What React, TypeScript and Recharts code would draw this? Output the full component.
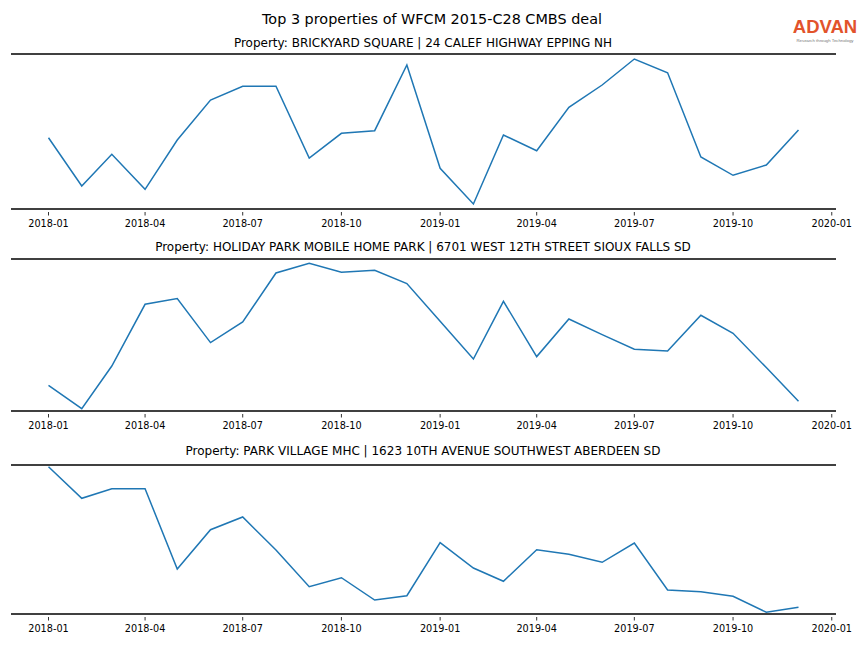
import React from 'react';
import { LineChart, Line, XAxis, YAxis, ReferenceLine } from 'recharts';

const mainTitle = 'Top 3 properties of WFCM 2015-C28 CMBS deal';
const panelTitles = [
  'Property: BRICKYARD SQUARE | 24 CALEF HIGHWAY EPPING NH',
  'Property: HOLIDAY PARK MOBILE HOME PARK | 6701 WEST 12TH STREET SIOUX FALLS SD',
  'Property: PARK VILLAGE MHC | 1623 10TH AVENUE SOUTHWEST ABERDEEN SD',
];

const months = [
  '2018-01', '2018-02', '2018-03', '2018-04', '2018-05', '2018-06',
  '2018-07', '2018-08', '2018-09', '2018-10', '2018-11', '2018-12',
  '2019-01', '2019-02', '2019-03', '2019-04', '2019-05', '2019-06',
  '2019-07', '2019-08', '2019-09', '2019-10', '2019-11', '2019-12',
];

const tickLabels = [
  '2018-01', '2018-04', '2018-07', '2018-10',
  '2019-01', '2019-04', '2019-07', '2019-10', '2020-01',
];

const brickyard = [
  71.3, 23, 54.7, 19.7, 69, 109, 122.7, 122.7, 51, 75.7, 78.3, 144,
  40.7, 5, 74, 58.3, 101.7, 124, 150, 136.3, 52, 33.7, 44, 79,
];
const holidayPark = [
  25.7, 2.4, 45, 106.7, 112.4, 68.4, 89, 138, 147.7, 138.7, 140.7, 127.4,
  89.7, 52, 109.7, 54.4, 92, 76.4, 61.7, 60, 95.7, 77.7, 43.4, 9.7,
];
const parkVillage = [
  147.3, 115.7, 125.3, 125.3, 45, 84.3, 97, 64, 27.3, 36.3, 14, 18.3,
  71.3, 46, 32.7, 64.3, 59.7, 51.7, 71, 24, 22.3, 17.7, 1.7, 6.7,
];

const toTs = (s: string) => {
  const [y, m] = s.split('-').map(Number);
  return Date.UTC(y, m - 1, 1);
};

const first = toTs(months[0]);
const last = toTs(months[months.length - 1]);
const pad = (last - first) * 0.05;
const xDomain = [first - pad, last + pad];
const xTicks = tickLabels.map(toTs);

const FONT = '"DejaVu Sans", sans-serif';
const TOP_PAD = 4;

const CustomTick = (props: any) => {
  const { x, y, index } = props;
  return (
    <g>
      <line x1={x} x2={x} y1={y + 3} y2={y + 6.5} stroke="#333" strokeWidth={1} />
      <text x={x} y={y + 18.3} textAnchor="middle" fontSize={9.7} fontFamily={FONT} fill="#000">
        {tickLabels[index]}
      </text>
    </g>
  );
};

const panels = [
  { values: brickyard, top: 54, height: 155, titleY: 42 },
  { values: holidayPark, top: 259, height: 152, titleY: 246 },
  { values: parkVillage, top: 465, height: 149, titleY: 450 },
];

const Panel = ({ values, top, height }: { values: number[]; top: number; height: number }) => {
  const data = months.map((m, i) => ({ t: toTs(m), v: values[i] }));
  const h = height + 30 + TOP_PAD;
  return (
    <div style={{ position: 'absolute', left: 0, top: top - TOP_PAD, width: 864, height: h }}>
      <LineChart width={864} height={h} data={data} margin={{ top: TOP_PAD, left: 11, right: 28, bottom: 0 }}>
        <XAxis
          type="number"
          dataKey="t"
          domain={xDomain}
          ticks={xTicks}
          allowDataOverflow
          interval={0}
          height={30}
          tickSize={0}
          tickMargin={0}
          axisLine={false}
          tickLine={false}
          tick={<CustomTick />}
        />
        <YAxis hide type="number" domain={[0, height]} allowDataOverflow />
        <ReferenceLine y={height} stroke="#404040" strokeWidth={2} ifOverflow="visible" />
        <ReferenceLine y={0} stroke="#404040" strokeWidth={2} ifOverflow="visible" />
        <Line
          type="linear"
          dataKey="v"
          stroke="#1f77b4"
          strokeWidth={1.5}
          dot={false}
          isAnimationActive={false}
        />
      </LineChart>
    </div>
  );
};

export default function App() {
  return (
    <div style={{ position: 'absolute', left: 0, top: 0, width: 864, height: 648, background: '#fff', fontFamily: FONT }}>
      {panels.map((p, i) => (
        <Panel key={i} values={p.values} top={p.top} height={p.height} />
      ))}
      <svg width={864} height={648} style={{ position: 'absolute', left: 0, top: 0, pointerEvents: 'none' }}>
        <text x={432} y={24} textAnchor="middle" fontSize={14.4} fontFamily={FONT} fill="#000">
          {mainTitle}
        </text>
        {panels.map((p, i) => (
          <text key={i} x={423} y={p.titleY + 4.5} textAnchor="middle" fontSize={12} fontFamily={FONT} fill="#000">
            {panelTitles[i]}
          </text>
        ))}
        <text x={825} y={33} textAnchor="middle" fontSize={18.5} fontWeight="bold" fontFamily='"Liberation Sans", Arial, sans-serif' fill="#e2532b">
          ADVAN
        </text>
        <text x={825} y={41.5} textAnchor="middle" fontSize={4.3} fontFamily='"Liberation Sans", Arial, sans-serif' fill="#777">
          Research through Technology
        </text>
      </svg>
    </div>
  );
}
